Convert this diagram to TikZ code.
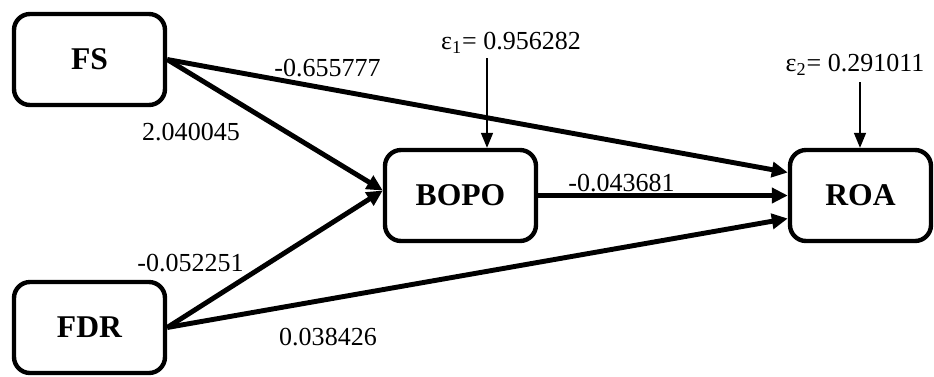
\documentclass[tikz,border=0pt]{standalone}
\usepackage{fontspec}
\setmainfont{Liberation Serif}
\usetikzlibrary{arrows.meta}
\tikzset{
  var/.style={draw, line width=2.5pt, rounded corners=0.32cm, minimum width=3.02cm, minimum height=1.82cm, font=\fontsize{18}{20}\selectfont\bfseries},
  path/.style={line width=2.8pt, -{Triangle[length=0.32cm,width=0.3cm]}},
  err/.style={line width=0.9pt, -{Triangle[length=0.3cm,width=0.24cm]}},
  coef/.style={font=\fontsize{14.8}{16}\selectfont}
}
\begin{document}
\begin{tikzpicture}
        \useasboundingbox (0,0) rectangle (18.68,7.52);
        \node [var] (fs) at (1.79,6.33) {FS};
        \node [var] (fdr) at (1.79,0.97) {FDR};
        \node [var] (bopo) at (9.21,3.61) {BOPO};
        \node [var, minimum width=2.82cm] (roa) at (17.21,3.61) {ROA};
        \draw [path] (fs.east) -- ([yshift=0.46cm]roa.west);
        \draw [path] (fs.east) -- ([yshift=0.1cm]bopo.west);
        \draw [path] (fdr.east) -- ([yshift=0.1cm]bopo.west);
        \draw [path] (fdr.east) -- ([yshift=-0.46cm]roa.west);
        \draw [path] (bopo.east) -- (roa.west);
        \node [coef] (c1) at (6.55,6.16) {-0.655777};
        \node [coef] (c2) at (3.82,4.88) {2.040045};
        \node [coef] (c3) at (3.81,2.26) {-0.052251};
        \node [coef] (c4) at (6.56,0.78) {0.038426};
        \node [coef] (c5) at (12.43,3.86) {-0.043681};
        \node [coef] (eps1) at (10.22,6.66) {ε\textsubscript{1}= 0.956282};
        \node [coef] (eps2) at (17.1,6.22) {ε\textsubscript{2}= 0.291011};
        \coordinate (e1) at (9.74,6.36);
        \coordinate (e2) at (17.2,5.88);
        \draw [err] (e1) -- (e1 |- bopo.north);
        \draw [err] (e2) -- (e2 |- roa.north);
\end{tikzpicture}
\end{document}
